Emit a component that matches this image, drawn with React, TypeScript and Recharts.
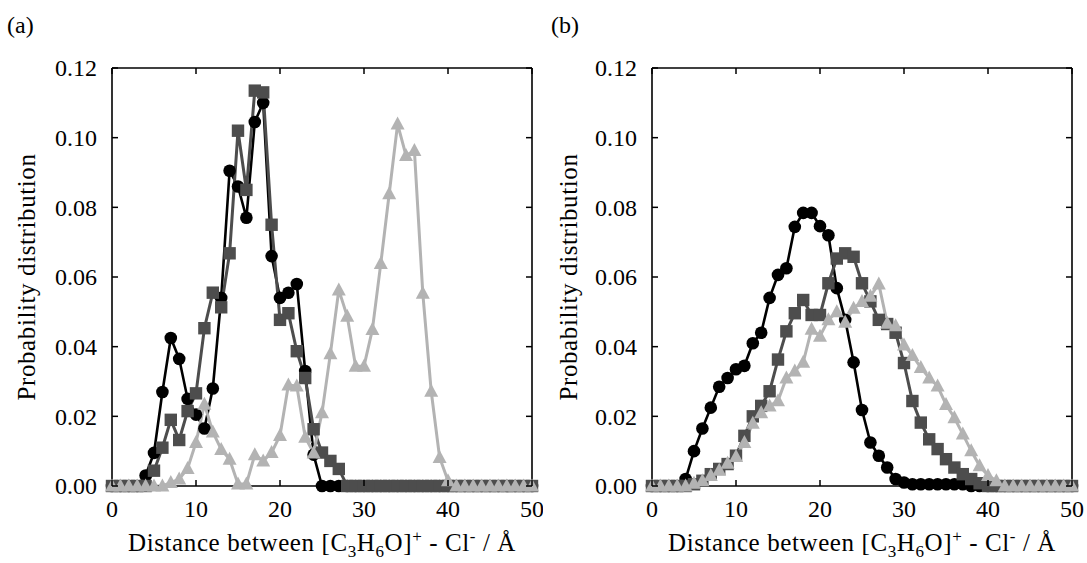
import React from 'react';
import { LineChart, Line, XAxis, YAxis } from 'recharts';

const distance = [0,1,2,3,4,5,6,7,8,9,10,11,12,13,14,15,16,17,18,19,20,21,22,23,24,25,26,27,28,29,30,31,32,33,34,35,36,37,38,39,40,41,42,43,44,45,46,47,48,49,50];

const aCircle = [0,0,0,0,0.003,0.0095,0.027,0.0425,0.0365,0.025,0.0205,0.0165,0.028,0.054,0.0905,0.086,0.077,0.1045,0.110,0.066,0.054,0.0555,0.058,0.033,0.009,0,0,0,0,0,0,0,0,0,0,0,0,0,0,0,0,0,0,0,0,0,0,0,0,0,0];
const aSquare = [0,0,0,0,0,0.0044,0.011,0.019,0.0132,0.0215,0.0266,0.0453,0.0555,0.0513,0.0668,0.102,0.085,0.1135,0.113,0.075,0.0477,0.0496,0.0387,0.031,0.0163,0.0096,0.0072,0.0049,0,0,0,0,0,0,0,0,0,0,0,0,0,0,0,0,0,0,0,0,0,0,0];
const aTriangle = [0,0,0,0,0,0,0,0.001,0.002,0.005,0.0125,0.0235,0.0155,0.0105,0.0077,0.0006,0.0006,0.009,0.0072,0.0096,0.0145,0.029,0.0287,0.014,0.0095,0.021,0.038,0.0563,0.0487,0.0344,0.0344,0.0449,0.0639,0.0839,0.1039,0.0949,0.0963,0.0553,0.0272,0.0082,0.0015,0,0,0,0,0,0,0,0,0,0];

const bCircle = [0,0,0,0,0.002,0.010,0.0165,0.0225,0.0285,0.031,0.0335,0.0345,0.041,0.044,0.054,0.0606,0.0625,0.0744,0.0784,0.0784,0.0746,0.072,0.0568,0.0477,0.0355,0.0218,0.0125,0.0087,0.0053,0.002,0.001,0.0005,0.0005,0.0005,0.0005,0.0005,0.0005,0.0005,0,0,0,0,0,0,0,0,0,0,0,0,0];
const bSquare = [0,0,0,0,0,0.0005,0.0015,0.0034,0.0049,0.0063,0.0087,0.0144,0.020,0.023,0.0272,0.0363,0.0444,0.0496,0.0534,0.0491,0.0491,0.0582,0.0653,0.0668,0.0658,0.0582,0.053,0.0477,0.0465,0.044,0.0353,0.0244,0.0182,0.0134,0.0106,0.0077,0.0053,0.0034,0.002,0.0008,0,0,0,0,0,0,0,0,0,0,0];
const bTriangle = [0,0,0,0,0,0.0008,0.0015,0.003,0.0045,0.0065,0.0085,0.0125,0.018,0.021,0.023,0.0245,0.031,0.033,0.0355,0.045,0.043,0.0477,0.050,0.047,0.051,0.053,0.0545,0.058,0.0467,0.046,0.0405,0.0375,0.034,0.031,0.0287,0.0234,0.0196,0.0149,0.0101,0.0058,0.003,0.0015,0,0,0,0,0,0,0,0,0];

const xTicks = [0, 10, 20, 30, 40, 50];
const yTicks = [0, 0.02, 0.04, 0.06, 0.08, 0.1, 0.12];

const FONT = 'Liberation Serif';
const FS = 24;
const BLACK = '#000000';
const DARK = '#4d4d4d';
const LIGHT = '#b3b3b3';

const build = (c: number[], s: number[], t: number[]) =>
  distance.map((x, i) => ({ x, c: c[i], s: s[i], t: t[i] }));

const dataA = build(aCircle, aSquare, aTriangle);
const dataB = build(bCircle, bSquare, bTriangle);

const TL = 6;

const BottomTick = (p: any) => (
  <g>
    <line x1={p.x} y1={p.y} x2={p.x} y2={p.y - TL} stroke="#000" strokeWidth={1.5} />
    <text x={p.x} y={p.y + 31} textAnchor="middle" fontSize={FS} fontFamily={FONT} fill="#000">
      {p.payload.value}
    </text>
  </g>
);
const TopTick = (p: any) => (
  <line x1={p.x} y1={p.y} x2={p.x} y2={p.y + TL} stroke="#000" strokeWidth={1.5} />
);
const LeftTick = (p: any) => (
  <g>
    <line x1={p.x} y1={p.y} x2={p.x + TL} y2={p.y} stroke="#000" strokeWidth={1.5} />
    <text x={p.x - 15} y={p.y} dy="0.35em" textAnchor="end" fontSize={FS} fontFamily={FONT} fill="#000">
      {Number(p.payload.value).toFixed(2)}
    </text>
  </g>
);
const RightTick = (p: any) => (
  <line x1={p.x} y1={p.y} x2={p.x - TL} y2={p.y} stroke="#000" strokeWidth={1.5} />
);

const circleDot = (p: any) => (
  <circle key={`c${p.index}`} cx={p.cx} cy={p.cy} r={6.3} fill={BLACK} />
);
const squareDot = (p: any) => (
  <rect key={`s${p.index}`} x={p.cx - 6.2} y={p.cy - 6.2} width={12.4} height={12.4} fill={DARK} />
);
const triDot = (p: any) => (
  <polygon
    key={`t${p.index}`}
    points={`${p.cx},${p.cy - 7.5} ${p.cx - 7},${p.cy + 5.5} ${p.cx + 7},${p.cy + 5.5}`}
    fill={LIGHT}
  />
);

const axisLine = { stroke: '#000', strokeWidth: 1.6 };

const Panel = ({ data, width, margin }: { data: any[]; width: number; margin: any }) => (
  <LineChart width={width} height={563} data={data} margin={margin}>
    <XAxis xAxisId="b" dataKey="x" type="number" domain={[0, 50]} ticks={xTicks} interval={0}
      height={1} tickSize={0} tickMargin={0} tickLine={false} axisLine={axisLine} tick={(p: any) => <BottomTick {...p} />} />
    <XAxis xAxisId="t" orientation="top" dataKey="x" type="number" domain={[0, 50]} ticks={xTicks} interval={0}
      height={1} tickSize={0} tickMargin={0} tickLine={false} axisLine={axisLine} tick={(p: any) => <TopTick {...p} />} />
    <YAxis yAxisId="l" type="number" domain={[0, 0.12]} ticks={yTicks} interval={0}
      width={1} tickSize={0} tickMargin={0} tickLine={false} axisLine={axisLine} tick={(p: any) => <LeftTick {...p} />} />
    <YAxis yAxisId="r" orientation="right" type="number" domain={[0, 0.12]} ticks={yTicks} interval={0}
      width={1} tickSize={0} tickMargin={0} tickLine={false} axisLine={axisLine} tick={(p: any) => <RightTick {...p} />} />
    <Line xAxisId="b" yAxisId="l" dataKey="c" stroke={BLACK} strokeWidth={2.6} dot={circleDot} activeDot={false} isAnimationActive={false} type="linear" />
    <Line xAxisId="b" yAxisId="l" dataKey="s" stroke={DARK} strokeWidth={3} dot={squareDot} activeDot={false} isAnimationActive={false} type="linear" />
    <Line xAxisId="b" yAxisId="l" dataKey="t" stroke={LIGHT} strokeWidth={3} dot={triDot} activeDot={false} isAnimationActive={false} type="linear" />
    <Line xAxisId="t" yAxisId="r" dataKey="c" stroke="none" dot={false} activeDot={false} isAnimationActive={false} legendType="none" />
  </LineChart>
);

const XTitle = ({ x }: { x: number }) => (
  <text x={x} y={551} textAnchor="middle" fontSize={25} fontFamily={FONT} fill="#000" letterSpacing={0.6}>
    Distance between [C<tspan dy={6} fontSize={17}>3</tspan><tspan dy={-6}>H</tspan><tspan dy={6} fontSize={17}>6</tspan><tspan dy={-6}>O]</tspan><tspan dy={-9} fontSize={17}>+</tspan><tspan dy={9}> - Cl</tspan><tspan dy={-9} fontSize={17}>-</tspan><tspan dy={9}> / Å</tspan>
  </text>
);

const YTitle = ({ x }: { x: number }) => (
  <text x={x} y={277} transform={`rotate(-90 ${x} 277)`} textAnchor="middle" fontSize={25} fontFamily={FONT} fill="#000" letterSpacing={0.6}>
    Probability distribution
  </text>
);

export default function App() {
  return (
    <div style={{ position: 'absolute', left: 0, top: 0, width: 1087, height: 563, background: '#fff' }}>
      <div style={{ position: 'absolute', left: 0, top: 0 }}>
        <Panel data={dataA} width={543} margin={{ top: 67, right: 10, bottom: 76, left: 111 }} />
      </div>
      <div style={{ position: 'absolute', left: 543, top: 0 }}>
        <Panel data={dataB} width={544} margin={{ top: 67, right: 14, bottom: 76, left: 108 }} />
      </div>
      <svg width={1087} height={563} style={{ position: 'absolute', left: 0, top: 0, pointerEvents: 'none' }}>
        <text x={7} y={33} fontSize={FS} fontFamily={FONT} fill="#000">(a)</text>
        <text x={551} y={33} fontSize={FS} fontFamily={FONT} fill="#000">(b)</text>
        <YTitle x={35} />
        <YTitle x={577} />
        <XTitle x={322} />
        <XTitle x={862} />
      </svg>
    </div>
  );
}
